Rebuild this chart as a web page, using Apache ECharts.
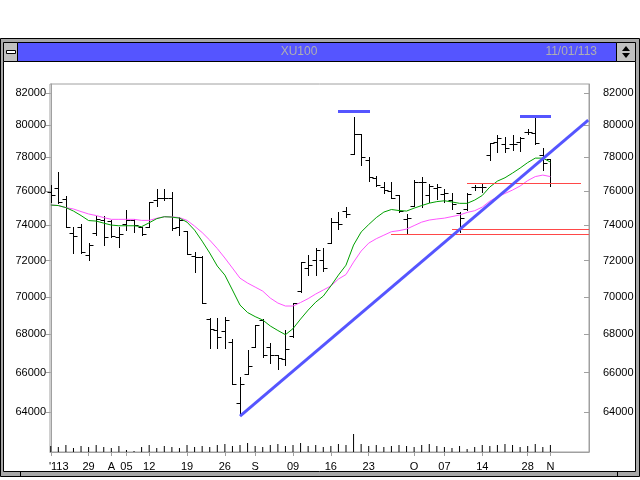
<!DOCTYPE html>
<html><head><meta charset="utf-8">
<script src="https://cdn.jsdelivr.net/npm/echarts@6/dist/echarts.min.js"></script>
<style>html,body{margin:0;padding:0;background:#fff}#c{width:640px;height:480px}</style>
</head><body><div id="c"></div>
<script>
const dates = ['07-22','07-23','07-24','07-25','07-26','07-29','07-30','07-31','08-01','08-02',
'08-05','08-06','08-07','08-12','08-13','08-14','08-15','08-16','08-19','08-20',
'08-21','08-22','08-23','08-26','08-27','08-28','08-29','09-02','09-03','09-04',
'09-05','09-06','09-09','09-10','09-11','09-12','09-13','09-16','09-17','09-18',
'09-19','09-20','09-23','09-24','09-25','09-26','09-27','09-30','10-01','10-02',
'10-03','10-04','10-07','10-08','10-09','10-10','10-11','10-14','10-21','10-22',
'10-23','10-24','10-25','10-28','10-30','10-31','11-01'];
const open = [75950,76150,75500,73570,73910,72300,73570,74300,74260,73340,
74060,74300,73910,73910,75460,75560,75560,73910,73680,72250,
72210,68800,68210,68180,67560,64440,65950,67330,68750,67300,
66900,66680,67900,70310,71560,72020,72020,72960,74160,74820,
78190,79430,77840,76780,76240,75990,75750,74360,75110,76510,
75750,76190,75800,75460,74690,74940,76240,76240,78150,78960,
78800,78800,78960,79570,79490,78150,77890];
const high = [76350,77100,75700,73910,74100,72990,74530,74530,74300,73910,
74880,74340,73910,75360,76090,76090,75950,74450,73680,72490,
72250,68840,68840,68890,67740,65750,67160,68480,68800,67510,
66900,68210,69640,71930,72300,72710,72710,74430,74740,75070,
80510,79430,78040,76880,76540,76510,75750,74630,76640,76840,
76390,76410,76090,75850,74740,75850,76350,76390,78860,79370,
79270,79370,79270,79720,80470,78560,77890];
const low = [75360,75270,73910,72400,72400,72020,73430,72900,73340,72770,
73720,73620,73430,73910,75110,75460,73720,73430,72360,71370,
69640,67250,67250,67250,65410,63850,65950,67330,66810,66470,
66160,66380,67860,70270,71190,71190,71410,72960,73780,74490,
78190,77540,76580,76300,75850,75560,74780,73500,75110,75070,
75360,75520,75360,74940,73600,74880,76050,75910,77840,78350,
78350,78450,78390,79430,78820,77240,76290];
const close = [75750,75360,73910,73380,72490,72870,74340,73300,73380,73490,
74300,74010,73490,75360,75560,75600,73870,74300,72360,72210,
69640,68250,67860,68750,65410,65410,66330,68480,66900,66900,
66730,67200,69640,71930,71740,72580,71560,74160,74050,74630,
79430,78040,76840,76350,76050,75600,74820,74410,76540,76510,
76290,76240,75850,75210,74430,75800,76240,76240,78860,79170,
78560,78800,79200,79570,78860,77640,76450];
const maShort = [75170,75140,75020,74820,74560,74270,74240,74120,74010,73970,
73970,73970,73920,74140,74380,74490,74470,74410,74180,73720,
73090,72420,71690,71190,70370,69550,69150,68930,68750,68430,
68190,67970,68290,68800,69280,69710,70040,70590,71190,71740,
72870,73610,74040,74440,74760,74910,74850,74820,74990,75140,
75280,75370,75420,75350,75270,75270,75460,75730,76230,76580,
76780,77060,77360,77690,77960,77960,77720];
const maLong = [75170,75140,75020,74940,74790,74650,74560,74440,74340,74340,
74340,74340,74280,74280,74400,74490,74480,74440,74280,73950,
73580,73150,72670,72140,71580,71020,70750,70530,70310,69930,
69660,69500,69500,69690,69900,70150,70370,70590,70970,71220,
71910,72530,72980,73230,73430,73630,73690,73780,73980,74180,
74300,74360,74410,74500,74590,74740,74840,75050,75400,75640,
75850,76050,76290,76610,76850,76940,76850];
const volume = [60,50,70,40,60,50,70,50,40,60,
20,10,50,70,40,60,50,40,70,50,
60,50,70,80,60,70,90,60,50,70,
80,60,70,90,60,70,50,60,80,70,
180,80,60,70,50,60,70,60,50,70,
80,60,50,40,60,30,50,70,60,70,
80,70,50,60,80,50,70];
const tickDates = ['07-22','07-29','08-01','08-05','08-12','08-19','08-26','09-02','09-09','09-16','09-23','10-01','10-07','10-14','10-28','11-01'];
const tickLabels = ["'113",'29','A','05','12','19','26','S','09','16','23','O','07','14','28','N'];
const yTicks = [64000,66000,68000,70000,72000,74000,76000,78000,80000,82000];
const trendLine = [[25,63800],[71,80300]];
const peakMarks = [[37.9,42.2,80860],[62,66.1,80550]];
const redLines = [[55,70,76460],[53,71.1,73780],[45,71.1,73490]];

const tickIdx = tickDates.map(d => dates.indexOf(d));
const labelOf = {}; tickIdx.forEach((v,k)=>labelOf[v]=tickLabels[k]);
const FONT = "'Liberation Sans',Arial,sans-serif";
const ohlc = dates.map((d,i)=>[i,open[i],high[i],low[i],close[i]]);
const AX = '#a0a0a0';

function hSeg(data, color, width, z){
 return {type:'custom', data:data, encode:{x:[0,1], y:2}, silent:true, z:z, clip:false,
  renderItem(params, api){
   const a = api.coord([api.value(0), api.value(2)]), b = api.coord([api.value(1), api.value(2)]);
   const y = Math.round(a[1]) + (width % 2 ? 0.5 : 0);
   return {type:'line', shape:{x1:Math.round(a[0]), y1:y, x2:Math.round(b[0]), y2:y}, style:{stroke:color, lineWidth:width}};
  }};
}

const chart = echarts.init(document.getElementById('c'), null, {renderer:'canvas'});
const series = [
 {type:'bar', xAxisIndex:0, yAxisIndex:2, data:volume.map((v,i)=>[i,v]), barWidth:1, itemStyle:{color:'#000'}, silent:true},
 {type:'line', data:maLong.map((v,i)=>[i,v]), showSymbol:false, lineStyle:{color:'#ff55ff',width:1}, itemStyle:{color:'#ff55ff'}, silent:true},
 {type:'line', data:maShort.map((v,i)=>[i,v]), showSymbol:false, lineStyle:{color:'#00a000',width:1}, itemStyle:{color:'#00a000'}, silent:true},
 {type:'custom', data:ohlc, encode:{x:0,y:[1,2,3,4]}, silent:true, z:3,
  renderItem(params, api){
   const x = api.value(0);
   const o = api.coord([x,api.value(1)]), h = api.coord([x,api.value(2)]), l = api.coord([x,api.value(3)]), c = api.coord([x,api.value(4)]);
   const px = Math.round(h[0])+0.5;
   const st = {stroke:'#000', lineWidth:1};
   return {type:'group', children:[
    {type:'line', shape:{x1:px,y1:Math.round(h[1]),x2:px,y2:Math.round(l[1])+1}, style:st},
    {type:'line', shape:{x1:px-4,y1:Math.round(o[1])+0.5,x2:px,y2:Math.round(o[1])+0.5}, style:st},
    {type:'line', shape:{x1:px,y1:Math.round(c[1])+0.5,x2:px+4,y2:Math.round(c[1])+0.5}, style:st}
   ]};
  }},
 hSeg(redLines, '#ff4848', 1, 4),
 {type:'line', data:trendLine, showSymbol:false, lineStyle:{color:'#5555ff',width:3}, silent:true, z:5},
 hSeg(peakMarks, '#5555ff', 3, 5)
];

const yAxisBase = (pos, inside, margin) => ({
 type:'log', position:pos, min:62050, max:82580, logBase:10,
 axisLine:{show:true, lineStyle:{color:AX}},
 axisTick:{show:true, inside:inside, length:5, customValues:yTicks, lineStyle:{color:AX}},
 axisLabel:{customValues:yTicks, margin:margin, color:'#000', fontFamily:FONT, fontSize:11, formatter:v=>String(Math.round(v))},
 splitLine:{show:false}, minorTick:{show:false}
});

chart.setOption({
 animation:false,
 backgroundColor:'#fff',
 grid:{left:50, right:51, top:84, bottom:28, show:true, borderColor:AX, borderWidth:1, backgroundColor:'transparent'},
 xAxis:{type:'value', min:-0.1, max:71.1,
  axisLine:{show:true, lineStyle:{color:AX}},
  axisTick:{show:true, length:4, customValues:tickIdx, lineStyle:{color:AX}},
  axisLabel:{customValues:tickIdx, margin:9, color:'#000', fontFamily:FONT, fontSize:11,
   formatter:v=>{const t=labelOf[Math.round(v)]||''; return Math.round(v)===0 ? '{a|'+t+'}' : t;},
   rich:{a:{padding:[0,0,0,16], fontFamily:FONT, fontSize:11, color:'#000'}}},
  splitLine:{show:false}},
 yAxis:[yAxisBase('left', false, 4), yAxisBase('right', true, 14),
  {type:'value', min:0, max:3680, show:false, splitLine:{show:false}}],
 graphic:[
  {type:'rect', z:-10, shape:{x:0.5,y:38.5,width:639,height:438}, style:{fill:'#a8a8a8', stroke:'#000'}},
  {type:'rect', z:-9, shape:{x:3.5,y:61.5,width:632,height:410}, style:{fill:'#fff', stroke:'#000'}},
  {type:'rect', z:-9, shape:{x:17.5,y:42.5,width:599,height:19}, style:{fill:'#5555ff', stroke:'#000'}},
  {type:'rect', z:-9, shape:{x:3.5,y:42.5,width:14,height:19}, style:{fill:'#c0c0c0', stroke:'#000'}},
  {type:'rect', z:-8, shape:{x:6.5,y:50.5,width:9,height:3}, style:{fill:'#fff', stroke:'#000'}},
  {type:'rect', z:-9, shape:{x:616.5,y:42.5,width:19,height:19}, style:{fill:'#c0c0c0', stroke:'#000'}},
  {type:'polygon', z:-8, shape:{points:[[626,46],[622,51],[630,51]]}, style:{fill:'#000'}},
  {type:'polygon', z:-8, shape:{points:[[626,58],[622,53],[630,53]]}, style:{fill:'#000'}},
  {type:'line', z:-8, shape:{x1:20.5,y1:471,x2:20.5,y2:477}, style:{stroke:'#000'}},
  {type:'line', z:-8, shape:{x1:617.5,y1:471,x2:617.5,y2:477}, style:{stroke:'#000'}},
  {type:'text', z:-7, style:{text:'XU100', x:299, y:52, align:'center', verticalAlign:'middle', fill:'#b0b0b0', font:"12px "+FONT}},
  {type:'text', z:-7, style:{text:'11/01/113', x:597, y:52, align:'right', verticalAlign:'middle', fill:'#b0b0b0', font:"12px "+FONT}}
 ],
 series
});
</script></body></html>
